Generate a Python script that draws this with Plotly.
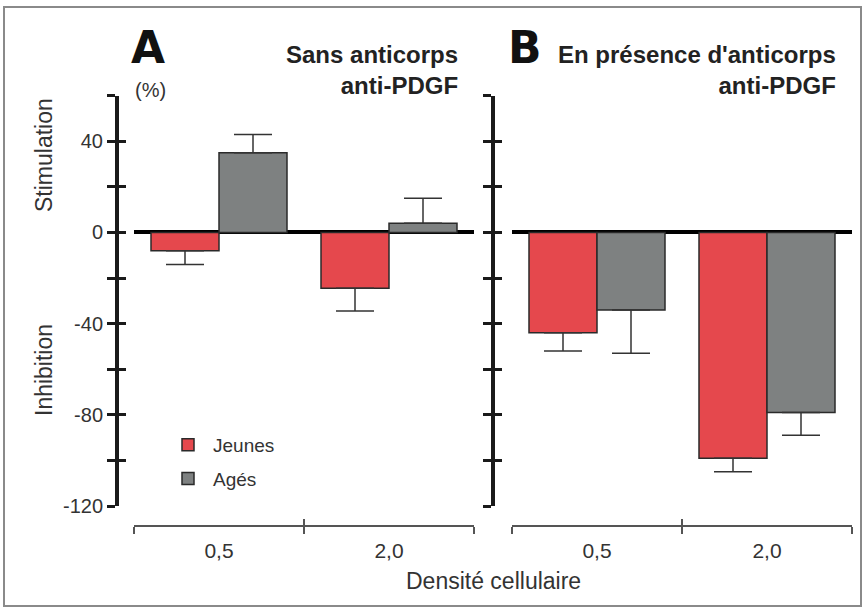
import plotly.graph_objects as go

# ---- data ----
categories = ["0,5", "2,0"]
series_names = ["Jeunes", "Agés"]
# Panel A : sans anticorps anti-PDGF
a_jeunes = [-8, -24.5]
a_ages = [35, 4]
a_jeunes_err = [6, 10]
a_ages_err = [8, 11]
# Panel B : en présence d'anticorps anti-PDGF
b_jeunes = [-44, -99]
b_ages = [-34, -79]
b_jeunes_err = [8, 6]
b_ages_err = [19, 10]

y_tickvals = [-120, -100, -80, -60, -40, -20, 0, 20, 40, 60]
y_ticklabels = ["-120", "", "-80", "", "-40", "", "0", "", "40", ""]
y_range = [-120, 60]

colors = {"Jeunes": "#e5484d", "Agés": "#7e8181"}
FONT = "Liberation Sans, Arial, sans-serif"
W, H = 864, 610


def px_x(p):
    return p / W


def px_y(p):
    return 1 - p / H


def one_sided(vals, errs):
    plus = [e if v > 0 else 0 for v, e in zip(vals, errs)]
    minus = [e if v < 0 else 0 for v, e in zip(vals, errs)]
    return plus, minus


fig = go.Figure()

panels = [
    ("x", "y", "x3", "y3", a_jeunes, a_ages, a_jeunes_err, a_ages_err, True),
    ("x2", "y2", "x4", "y4", b_jeunes, b_ages, b_jeunes_err, b_ages_err, False),
]
for xa, ya, xo, yo, jv, av, je, ae, show in panels:
    for name, vals, errs in [("Jeunes", jv, je), ("Agés", av, ae)]:
        plus, minus = one_sided(vals, errs)
        fig.add_trace(go.Bar(
            x=categories, y=vals, name=name, xaxis=xa, yaxis=ya,
            marker=dict(color=colors[name], line=dict(color="#2a2a2a", width=1.5)),
            error_y=dict(type="data", symmetric=False, array=plus, arrayminus=minus,
                         color="#333333", thickness=1.5, width=19),
            showlegend=show, legendgroup=name,
        ))
    # invisible companion trace so the overlay axes (inner half of the ticks) are drawn
    fig.add_trace(go.Scatter(x=categories, y=jv, xaxis=xo, yaxis=yo, mode="markers",
                             marker=dict(opacity=0), showlegend=False, hoverinfo="skip",
                             legendgroup="overlay"))

y_dom = [px_y(506), px_y(95.7)]
x_dom_a = [px_x(134), px_x(474)]
x_dom_b = [px_x(512), px_x(852)]
x_pos = px_y(526)

common_y = dict(range=y_range, domain=y_dom, tickvals=y_tickvals, showgrid=False,
                showline=True, linecolor="#1a1a1a", linewidth=4,
                tickcolor="#1a1a1a", tickwidth=3, ticklen=8,
                zeroline=True, zerolinecolor="#000000", zerolinewidth=4,
                anchor="free", fixedrange=True)
common_x = dict(showgrid=False, showline=True, linecolor="#555555", linewidth=2,
                ticks="outside", tickcolor="#555555", tickwidth=2, ticklen=7,
                tickson="boundaries", range=[-0.5, len(categories) - 0.5],
                anchor="free", position=x_pos, type="category",
                categoryorder="array", categoryarray=categories,
                tickfont=dict(size=21, color="#333333", family=FONT),
                ticklabelstandoff=6)
over_x = dict(type="category", categoryorder="array", categoryarray=categories,
              range=[-0.5, len(categories) - 0.5], tickson="boundaries",
              ticks="inside", ticklen=7, tickwidth=2, tickcolor="#555555",
              showticklabels=False, showgrid=False, zeroline=False, showline=False,
              anchor="free", position=x_pos)
over_y = dict(range=y_range, tickvals=y_tickvals, ticks="inside", ticklen=8,
              tickwidth=3, tickcolor="#1a1a1a", showticklabels=False, showgrid=False,
              zeroline=False, showline=False, anchor="free")

fig.update_layout(
    width=W, height=H,
    margin=dict(l=0, r=0, t=0, b=0, autoexpand=False),
    paper_bgcolor="white", plot_bgcolor="rgba(0,0,0,0)",
    font=dict(family=FONT, color="#333333"),
    barmode="group", bargap=0.2, bargroupgap=0,
    xaxis=dict(domain=x_dom_a, **common_x),
    xaxis2=dict(domain=x_dom_b, **common_x),
    xaxis3=dict(overlaying="x", **over_x),
    xaxis4=dict(overlaying="x2", **over_x),
    yaxis=dict(position=px_x(117), ticks="outside", ticktext=y_ticklabels,
               tickfont=dict(size=20, color="#333333", family=FONT), **common_y),
    yaxis2=dict(position=px_x(493), ticks="outside", showticklabels=False, **common_y),
    yaxis3=dict(overlaying="y", position=px_x(117), **over_y),
    yaxis4=dict(overlaying="y2", position=px_x(493), **over_y),
    legend=dict(x=px_x(163), y=px_y(426), xanchor="left", yanchor="top",
                bgcolor="rgba(0,0,0,0)", font=dict(size=19, color="#333333"),
                tracegroupgap=6, traceorder="grouped", itemwidth=40),
    showlegend=True,
)

ann = [
    dict(text="<b>A</b>", x=px_x(148), y=px_y(47), font=dict(size=44, color="#111111",
         family="DejaVu Sans"), xanchor="center", yanchor="middle"),
    dict(text="<b>B</b>", x=px_x(525), y=px_y(47), font=dict(size=44, color="#111111",
         family="DejaVu Sans"), xanchor="center", yanchor="middle"),
    dict(text="<b>Sans anticorps<br>anti-PDGF</b>", x=px_x(460), y=px_y(70),
         xanchor="right", yanchor="middle", align="right",
         font=dict(size=24, color="#222222")),
    dict(text="<b>En présence d'anticorps<br>anti-PDGF</b>", x=px_x(838), y=px_y(70),
         xanchor="right", yanchor="middle", align="right",
         font=dict(size=24, color="#222222")),
    dict(text="(%)", x=px_x(150), y=px_y(90), xanchor="center", yanchor="middle",
         font=dict(size=20, color="#333333")),
    dict(text="Stimulation", x=px_x(44), y=px_y(155), textangle=-90,
         xanchor="center", yanchor="middle", font=dict(size=23, color="#333333")),
    dict(text="Inhibition", x=px_x(44), y=px_y(370), textangle=-90,
         xanchor="center", yanchor="middle", font=dict(size=23, color="#333333")),
    dict(text="Densité cellulaire", x=px_x(493), y=px_y(581), xanchor="center",
         yanchor="middle", font=dict(size=23, color="#333333")),
]
for a in ann:
    a.update(xref="paper", yref="paper", showarrow=False)
fig.update_layout(annotations=ann)

fig.add_shape(type="rect", xref="paper", yref="paper", x0=px_x(4), x1=px_x(861),
              y0=px_y(606), y1=px_y(7), line=dict(color="#8a8a8a", width=2),
              fillcolor="rgba(0,0,0,0)", layer="below")

post = (
    "var s=document.createElement('style');"
    "s.innerHTML='html,body{margin:0;padding:0;overflow:hidden;width:864px;height:610px;}"
    ".plotly-graph-div{display:block;}';"
    "document.head.appendChild(s);"
)
fig.write_html("out.html", config={"displayModeBar": False}, post_script=post)
